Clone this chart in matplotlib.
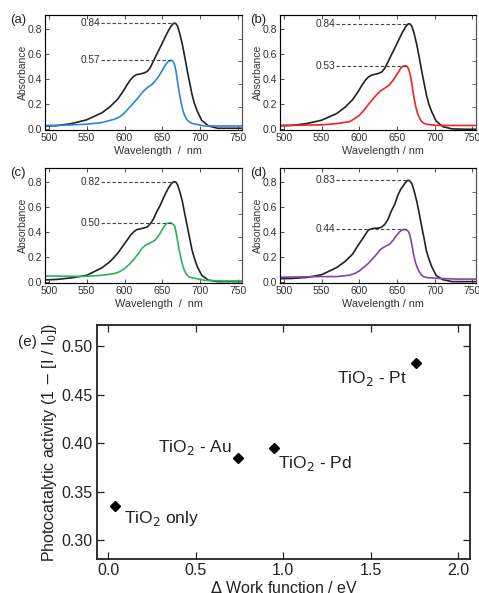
import matplotlib
matplotlib.use("Agg")
import matplotlib.pyplot as plt
import numpy as np

plt.rcParams['font.family'] = ['Liberation Sans', 'DejaVu Sans']

# --- absorbance spectra ---
wl_ref = [492, 510, 530, 550, 570, 581, 591, 598, 604, 608, 612, 616, 621, 626, 630, 634, 638, 642,
          647, 651, 655, 658.5, 661.5, 664, 666, 668, 670, 673, 676.5, 680, 683, 686, 689, 692,
          696, 702, 711, 723, 740, 755]
ref_a = [0.025, 0.028, 0.045, 0.075, 0.13, 0.18, 0.24, 0.30, 0.36, 0.395, 0.42, 0.435, 0.44, 0.448,
         0.46, 0.49, 0.54, 0.59, 0.65, 0.70, 0.75, 0.79, 0.82, 0.838, 0.845, 0.838, 0.82, 0.76,
         0.67, 0.56, 0.46, 0.37, 0.28, 0.21, 0.145, 0.07, 0.026, 0.008, 0.008, 0.008]
ref_b = [0.028, 0.03, 0.045, 0.072, 0.125, 0.175, 0.235, 0.295, 0.355, 0.39, 0.415, 0.43, 0.437, 0.445,
         0.457, 0.487, 0.535, 0.585, 0.645, 0.695, 0.745, 0.785, 0.815, 0.833, 0.84, 0.833, 0.815, 0.755,
         0.665, 0.555, 0.455, 0.365, 0.275, 0.205, 0.14, 0.065, 0.02, 0.003, 0.0, 0.0]
ref_c = [0.018, 0.022, 0.035, 0.055, 0.114, 0.165, 0.23, 0.29, 0.34, 0.375, 0.40, 0.418, 0.425, 0.432,
         0.44, 0.465, 0.50, 0.555, 0.61, 0.665, 0.716, 0.755, 0.78, 0.797, 0.80, 0.795, 0.775, 0.72,
         0.64, 0.53, 0.44, 0.35, 0.26, 0.195, 0.125, 0.055, 0.016, 0.005, 0.005, 0.005]
ref_d = [0.028, 0.03, 0.038, 0.06, 0.117, 0.165, 0.223, 0.29, 0.343, 0.38, 0.415, 0.425, 0.43, 0.43,
         0.44, 0.462, 0.50, 0.56, 0.62, 0.69, 0.74, 0.77, 0.795, 0.81, 0.81, 0.80, 0.78, 0.72,
         0.636, 0.53, 0.436, 0.345, 0.25, 0.19, 0.125, 0.053, 0.02, 0.005, 0.005, 0.005]

wl_m = [492, 520, 550, 570, 587, 594, 600, 606, 612, 618, 623, 628, 632, 636, 640, 645, 649, 652,
        655, 658, 661.5, 664, 666, 668, 670, 672, 674.5, 677, 679, 682, 685, 689, 694, 706, 730, 755]
met_a = [0.03, 0.032, 0.04, 0.053, 0.08, 0.10, 0.13, 0.17, 0.21, 0.25, 0.29, 0.32, 0.34, 0.355,
         0.38, 0.42, 0.46, 0.49, 0.52, 0.54, 0.55, 0.54, 0.515, 0.46, 0.38, 0.30, 0.22, 0.15,
         0.115, 0.08, 0.06, 0.047, 0.04, 0.026, 0.026, 0.026]
met_b = [0.03, 0.032, 0.035, 0.045, 0.06, 0.085, 0.11, 0.15, 0.197, 0.24, 0.275, 0.305, 0.32, 0.335,
         0.354, 0.39, 0.43, 0.455, 0.486, 0.50, 0.506, 0.495, 0.47, 0.42, 0.354, 0.27, 0.19, 0.13,
         0.10, 0.065, 0.05, 0.04, 0.035, 0.03, 0.03, 0.03]
met_c = [0.05, 0.048, 0.047, 0.055, 0.069, 0.085, 0.109, 0.14, 0.18, 0.225, 0.27, 0.295, 0.306, 0.32,
         0.333, 0.37, 0.41, 0.44, 0.465, 0.47, 0.472, 0.46, 0.45, 0.40, 0.333, 0.26, 0.19, 0.13,
         0.095, 0.06, 0.043, 0.035, 0.03, 0.015, 0.01, 0.01]
met_d = [0.04, 0.042, 0.045, 0.045, 0.056, 0.07, 0.09, 0.12, 0.15, 0.19, 0.223, 0.26, 0.277, 0.29,
         0.303, 0.335, 0.37, 0.39, 0.41, 0.418, 0.42, 0.41, 0.395, 0.35, 0.29, 0.22, 0.157, 0.115,
         0.09, 0.06, 0.045, 0.038, 0.035, 0.03, 0.025, 0.025]

peak_labels = [('0.84', '0.57'), ('0.84', '0.53'), ('0.82', '0.50'), ('0.83', '0.44')]
metal_colors = ['#2a86d6', '#f02424', '#2db35c', '#7d47ad']
panel_tags = ['(a)', '(b)', '(c)', '(d)']
xlabels = ['Wavelength  /  nm', 'Wavelength / nm', 'Wavelength  /  nm', 'Wavelength / nm']

# --- photocatalytic activity vs work function ---
samples = ['TiO$_2$ only', 'TiO$_2$ - Au', 'TiO$_2$ - Pd', 'TiO$_2$ - Pt']
work_fn = [0.04, 0.74, 0.95, 1.76]
activity = [0.335, 0.385, 0.395, 0.483]

fig = plt.figure(figsize=(4.79, 5.93), dpi=100)

boxes = [[0.094, 0.781, 0.411, 0.194], [0.585, 0.781, 0.409, 0.194],
         [0.094, 0.523, 0.411, 0.194], [0.585, 0.523, 0.409, 0.194]]
tag_pos = [(0.021, 0.966), (0.522, 0.966), (0.021, 0.708), (0.522, 0.708)]
label_x = [0.574, 0.526, 0.58, 0.526]
refs = [ref_a, ref_b, ref_c, ref_d]
mets = [met_a, met_b, met_c, met_d]

for i in range(4):
    ax = fig.add_axes(boxes[i])
    ax.plot(wl_ref, refs[i], color='#222222', lw=1.2)
    ax.plot(wl_m, mets[i], color=metal_colors[i], lw=1.2)
    ax.set_xlim(495, 755)
    ax.set_ylim(-0.005, 0.91)
    ax.set_xticks([500, 550, 600, 650, 700, 750])
    ax.set_yticks([0.0, 0.2, 0.4, 0.6, 0.8])
    ax.set_yticklabels(['0.0', '0.2', '0.4', '0.6', '0.8'])
    ax.tick_params(direction='in', top=True, right=False, labelsize=7.5, length=3,
                   width=0.6, pad=2, colors='#333333')
    for s in ax.spines.values():
        s.set_color('#555555')
        s.set_linewidth(0.8)
    ax.set_xlabel(xlabels[i], fontsize=7.8, labelpad=0, color='#333333')
    ax.xaxis.set_label_coords(label_x[i], -0.14)
    ax.set_ylabel('Absorbance', fontsize=7.5, labelpad=0, color='#333333')

    # right axis carries its own unlabeled tick marks
    rax = ax.twinx()
    rax.set_ylim(ax.get_ylim())
    rax.set_yticks([0.18, 0.36, 0.54, 0.72])
    rax.set_yticklabels([])
    rax.tick_params(direction='in', length=3, width=0.6, colors='#555555')
    rax.spines['right'].set_color('#555555')

    # dashed guides from the peak labels to each peak
    for ys, xs, lab in [(refs[i], wl_ref, peak_labels[i][0]), (mets[i], wl_m, peak_labels[i][1])]:
        k = int(np.argmax(ys))
        ax.plot([569, xs[k]], [ys[k], ys[k]], color='#444444', lw=0.8, ls=(0, (3, 2)))
        ax.text(568, ys[k], lab, ha='right', va='center', fontsize=7.3, color='#333333')

    fig.text(tag_pos[i][0], tag_pos[i][1], panel_tags[i], fontsize=9.5, va='center', color='#222222')

ax = fig.add_axes([0.2025, 0.0573, 0.779, 0.3946])
ax.plot(work_fn, activity, ls='none', marker='D', ms=5, color='black')
offsets = [(6.5, -9), (-4, 7.5), (3, -11), (-6.5, -11)]
aligns = ['left', 'right', 'left', 'right']
for j in range(len(samples)):
    ax.annotate(samples[j], (work_fn[j], activity[j]), xytext=offsets[j], textcoords='offset points',
                ha=aligns[j], va='center', fontsize=12.5, color='#222222')
ax.set_xlim(-0.063, 2.069)
ax.set_ylim(0.2804, 0.522)
ax.set_xticks([0.0, 0.5, 1.0, 1.5, 2.0])
ax.set_yticks([0.30, 0.35, 0.40, 0.45, 0.50])
ax.set_yticklabels(['0.30', '0.35', '0.40', '0.45', '0.50'])
ax.tick_params(direction='in', top=True, right=True, labelsize=11.5, length=5, width=0.9,
               pad=3, colors='#222222')
for s in ax.spines.values():
    s.set_linewidth(1.3)
    s.set_color('#222222')
ax.set_xlabel('$\\Delta$ Work function / eV', fontsize=11.5, labelpad=1, color='#222222')
ax.set_ylabel('Photocatalytic activity (1 $-$ [I / I$_0$])', fontsize=11.5, labelpad=2, color='#222222')
fig.text(0.038, 0.423, '(e)', fontsize=11, va='center', color='#222222')

fig.savefig('out.png', dpi=100)
